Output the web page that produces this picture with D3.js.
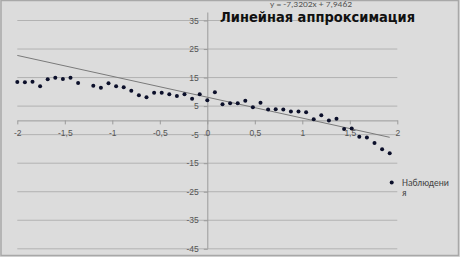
<!DOCTYPE html>
<html>
<head>
<meta charset="utf-8">
<script src="https://cdn.jsdelivr.net/npm/d3@7"></script>
<style>
  body { margin: 0; background: #dcdcdc; }
  svg { display: block; font-family: Carlito, 'Liberation Sans', sans-serif; }
</style>
</head>
<body>
<div id="chart"></div>
<script>
// x values step 0.08 from -2 to 1.92; the point at -1.28 is absent in the picture
const xValues = [-2, -1.92, -1.84, -1.76, -1.68, -1.6, -1.52, -1.44, -1.36,
  -1.2, -1.12, -1.04, -0.96, -0.88, -0.8, -0.72, -0.64, -0.56, -0.48, -0.4, -0.32,
  -0.24, -0.16, -0.08, 0, 0.08, 0.16, 0.24, 0.32, 0.4, 0.48, 0.56, 0.64, 0.72, 0.8,
  0.88, 0.96, 1.04, 1.12, 1.2, 1.28, 1.36, 1.44, 1.52, 1.6, 1.68, 1.76, 1.84, 1.92];
const yValues = [13.3, 13.2, 13.4, 11.8, 14.2, 14.8, 14.3, 14.8, 12.9,
  12.0, 11.3, 12.8, 11.8, 11.4, 10.2, 8.6, 7.9, 9.5, 9.5, 9.0, 8.4,
  9.0, 7.4, 9.0, 6.9, 9.7, 5.5, 5.8, 5.8, 6.7, 4.4, 6.0, 3.6, 3.7, 3.6,
  2.9, 2.9, 2.7, 0.2, 1.6, -0.2, 0.4, -3.2, -3.0, -5.9, -6.2, -8.1, -10.3, -11.7];
const xTicks = [-2, -1.5, -1, -0.5, 0, 0.5, 1, 1.5, 2];
const yTicks = [35, 25, 15, 5, -5, -15, -25, -35, -45];
const slope = -7.3202;
const intercept = 7.9462;
const title = 'Линейная аппроксимация';
const equation = 'y = -7,3202x + 7,9462';
const seriesName = ['Наблюдени', 'я'];

const width = 460;
const height = 257;

const svg = d3.select('#chart').append('svg')
  .attr('width', width)
  .attr('height', height);

svg.append('rect')
  .attr('width', width).attr('height', height)
  .attr('fill', '#dcdcdc');

// frame
svg.append('rect')
  .attr('x', 1).attr('y', 0.5)
  .attr('width', width - 2.5).attr('height', height - 2)
  .attr('fill', 'none')
  .attr('stroke', '#a8a8a8')
  .attr('stroke-width', 1.5);

const xScale = d3.scaleLinear().domain([-2, 2]).range([17.3, 397.3]);
const yScale = d3.scaleLinear().domain([-45, 35]).range([248.3, 20]);

// gridlines
svg.append('g')
  .selectAll('line')
  .data(yTicks)
  .join('line')
  .attr('x1', xScale(-2))
  .attr('x2', xScale(2))
  .attr('y1', d => yScale(d) + 0.5)
  .attr('y2', d => yScale(d) + 0.5)
  .attr('stroke', '#b2b2b2')
  .attr('stroke-width', 1);

// y axis (vertical line at x = 0)
const yAxis = d3.axisLeft(yScale)
  .tickValues(yTicks)
  .tickSize(4)
  .tickPadding(5)
  .tickFormat(d => d3.format('d')(d).replace('−', '-'));

const yG = svg.append('g')
  .attr('transform', `translate(${xScale(0) + 0.5},0.5)`)
  .call(yAxis);
yG.select('.domain').remove();
yG.append('line')
  .attr('y1', 12)
  .attr('y2', yScale(-45))
  .attr('stroke', '#9a9a9a');
yG.selectAll('.tick line').attr('stroke', '#9a9a9a');
yG.selectAll('.tick text')
  .attr('fill', '#555')
  .style('font-size', '8.5px');

// x axis at y = 0
const xAxis = d3.axisBottom(xScale)
  .tickValues(xTicks)
  .tickSize(4)
  .tickSizeOuter(0)
  .tickPadding(6)
  .tickFormat(d => String(d).replace('.', ','));

const xG = svg.append('g')
  .attr('transform', `translate(0,${yScale(0) + 0.5})`)
  .call(xAxis);
xG.select('.domain').attr('stroke', '#9a9a9a');
xG.selectAll('.tick line').attr('stroke', '#9a9a9a');
xG.selectAll('.tick text')
  .attr('fill', '#555')
  .style('font-size', '8.5px');

// linear trendline
const trendX = [xValues[0], xValues[xValues.length - 1]];
svg.append('line')
  .attr('x1', xScale(trendX[0]))
  .attr('y1', yScale(slope * trendX[0] + intercept))
  .attr('x2', xScale(trendX[1]))
  .attr('y2', yScale(slope * trendX[1] + intercept))
  .attr('stroke', '#7a7a7a')
  .attr('stroke-width', 1);

// observations
svg.append('g')
  .selectAll('circle')
  .data(xValues.map((x, i) => ({ x, y: yValues[i] })))
  .join('circle')
  .attr('cx', d => xScale(d.x))
  .attr('cy', d => yScale(d.y))
  .attr('r', 2)
  .attr('fill', '#0b0f2a');

// title and equation
svg.append('text')
  .attr('x', 220)
  .attr('y', 21.5)
  .style('font-family', "'DejaVu Sans', sans-serif")
  .style('font-size', '13.5px')
  .style('font-weight', 'bold')
  .attr('fill', '#111')
  .attr('textLength', 195)
  .attr('lengthAdjust', 'spacingAndGlyphs')
  .text(title);

svg.append('text')
  .attr('x', 270)
  .attr('y', 7)
  .style('font-size', '7.5px')
  .attr('fill', '#555')
  .attr('textLength', 82)
  .attr('lengthAdjust', 'spacingAndGlyphs')
  .text(equation);

// legend
svg.append('circle')
  .attr('cx', 391.7)
  .attr('cy', 182.5)
  .attr('r', 2)
  .attr('fill', '#0b0f2a');

svg.append('text')
  .attr('x', 402)
  .attr('y', 185.5)
  .style('font-size', '9.5px')
  .attr('fill', '#444')
  .selectAll('tspan')
  .data(seriesName)
  .join('tspan')
  .attr('x', 402)
  .attr('dy', (d, i) => i === 0 ? 0 : 10.5)
  .text(d => d);
</script>
</body>
</html>
